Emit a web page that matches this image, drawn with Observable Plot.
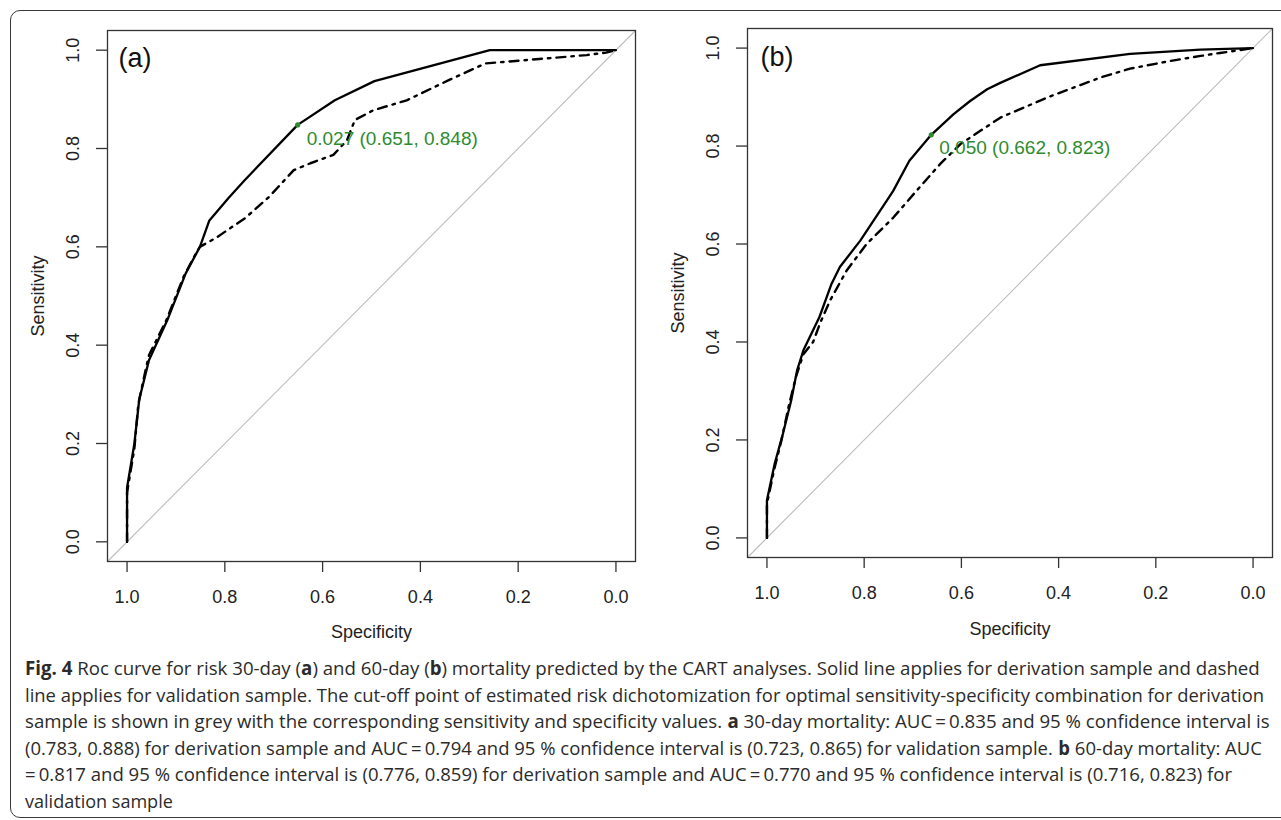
<!DOCTYPE html>
<html><head><meta charset="utf-8">
<script src="https://cdn.jsdelivr.net/npm/d3@7"></script>
<script src="https://cdn.jsdelivr.net/npm/@observablehq/plot@0.6"></script>
<style>
body{margin:0;background:#fff;width:1281px;height:820px;overflow:hidden;position:relative;font-family:"Liberation Sans",Arial,sans-serif}
#border{position:absolute;left:10px;top:10px;width:1300px;height:808px;border:1.3px solid #3a3a3a;border-radius:10px;box-sizing:border-box}
#pa{position:absolute;left:0;top:0}
#pb{position:absolute;left:640px;top:0}
#cap{position:absolute;left:0;top:0}
#cap text{white-space:pre}
</style></head><body>
<div id="border"></div>
<div id="pa"></div><div id="pb"></div>
<svg id="cap" width="1281" height="820"></svg>
<script>
// ---- data: [specificity, sensitivity] ----
const derivA = [[1,0],[1,0.11],[0.985,0.2],[0.975,0.29],[0.955,0.37],[0.918,0.45],[0.88,0.546],[0.851,0.6],[0.832,0.653],[0.792,0.70],[0.759,0.736],[0.651,0.848],[0.575,0.898],[0.494,0.937],[0.258,1.0],[0,1]];
const validA = [[1,0],[1,0.1],[0.985,0.19],[0.977,0.28],[0.962,0.35],[0.955,0.38],[0.92,0.45],[0.884,0.54],[0.86,0.585],[0.851,0.6],[0.817,0.619],[0.759,0.658],[0.709,0.702],[0.659,0.756],[0.625,0.770],[0.578,0.787],[0.55,0.817],[0.534,0.858],[0.496,0.878],[0.428,0.898],[0.342,0.939],[0.267,0.973],[0.06,0.99],[0.02,0.995],[0,1]];
const derivB = [[1,0],[1,0.077],[0.984,0.152],[0.967,0.213],[0.95,0.281],[0.938,0.342],[0.925,0.383],[0.892,0.451],[0.867,0.519],[0.85,0.553],[0.808,0.607],[0.749,0.695],[0.74,0.709],[0.707,0.77],[0.662,0.823],[0.616,0.865],[0.582,0.892],[0.547,0.916],[0.52,0.929],[0.438,0.965],[0.253,0.988],[0.108,0.997],[0,1]];
const validB = [[1,0],[1,0.07],[0.985,0.14],[0.97,0.2],[0.955,0.27],[0.94,0.33],[0.925,0.375],[0.905,0.40],[0.89,0.44],[0.87,0.485],[0.836,0.546],[0.795,0.60],[0.74,0.654],[0.692,0.709],[0.644,0.763],[0.602,0.804],[0.561,0.831],[0.52,0.858],[0.421,0.9],[0.314,0.94],[0.253,0.958],[0.169,0.974],[0.108,0.984],[0.068,0.99],[0,1]];
const panelLabels = ["(a)", "(b)"];
const cutThreshold = [0.027, 0.050];
const cutSpec = [0.651, 0.662];
const cutSens = [0.848, 0.823];
const tickValues = [0, 0.2, 0.4, 0.6, 0.8, 1.0];
const xTitle = "Specificity";
const yTitle = "Sensitivity";
const xDomain = [1.04, -0.04];
const yDomain = [-0.04, 1.04];

const captionLines = [
  [["Fig. 4", true], [" Roc curve for risk 30-day (", false], ["a", true], [") and 60-day (", false], ["b", true], [") mortality predicted by the CART analyses. Solid line applies for derivation sample and dashed", false]],
  [["line applies for validation sample. The cut-off point of estimated risk dichotomization for optimal sensitivity-specificity combination for derivation", false]],
  [["sample is shown in grey with the corresponding sensitivity and specificity values. ", false], ["a", true], [" 30-day mortality: AUC\u2009=\u20090.835 and 95 % confidence interval is", false]],
  [["(0.783, 0.888) for derivation sample and AUC\u2009=\u20090.794 and 95 % confidence interval is (0.723, 0.865) for validation sample. ", false], ["b", true], [" 60-day mortality: AUC", false]],
  [["=\u20090.817 and 95 % confidence interval is (0.776, 0.859) for derivation sample and AUC\u2009=\u20090.770 and 95 % confidence interval is (0.716, 0.823) for", false]],
  [["validation sample", false]]
];
const captionEnds = [1260, 1265, 1270, 1262, 1233, 173];

const green = "#2e8b2e";
const ink = "#222";
const font = "'Liberation Sans', Arial, sans-serif";

function panel(i, deriv, valid, m) {
  const cut = [{s: cutSpec[i], e: cutSens[i], t: cutThreshold[i]}];
  const diag = xDomain.map(v => [v, 1 - v]);
  return Plot.plot({
    width: m.width, height: m.height,
    marginLeft: m.ml, marginRight: m.mr, marginTop: m.mt, marginBottom: m.mb,
    x: {domain: xDomain, axis: null, label: null},
    y: {domain: yDomain, axis: null, label: null},
    style: {fontFamily: font, background: "transparent", overflow: "visible", color: ink},
    marks: [
      Plot.line(diag, {x: d => d[0], y: d => d[1], stroke: "#bdbdbd", strokeWidth: 1.1}),
      Plot.line(valid, {x: d => d[0], y: d => d[1], stroke: "#000", strokeWidth: 2.4, strokeDasharray: "9,6,2.5,6", strokeLinejoin: "round"}),
      Plot.line(deriv, {x: d => d[0], y: d => d[1], stroke: "#000", strokeWidth: 2.3}),
      Plot.dot(cut, {x: "s", y: "e", r: 2.6, fill: green, stroke: null}),
      Plot.text(cut, {x: "s", y: "e", text: d => `${d.t.toFixed(3)} (${d.s.toFixed(3)}, ${d.e.toFixed(3)})`, dx: m.cdx, dy: m.cdy, textAnchor: "start", lineAnchor: "middle", fill: green, fontSize: 19}),
      Plot.frame({stroke: "#333", strokeWidth: 1.3}),
      Plot.axisX(tickValues, {tickSize: 11, tickFormat: () => "", label: null, stroke: "#333", strokeWidth: 1.3}),
      Plot.axisY(tickValues, {tickSize: 11, tickFormat: () => "", label: null, stroke: "#333", strokeWidth: 1.3}),
      Plot.text(tickValues, {x: d => d, frameAnchor: "bottom", dy: m.xtdy, text: d => d.toFixed(1), fontSize: 18, lineAnchor: "middle", fill: ink}),
      Plot.text(tickValues, {y: d => d, frameAnchor: "left", dx: -34.5, rotate: -90, text: d => d.toFixed(1), fontSize: 18, lineAnchor: "middle", textAnchor: "middle", fill: ink}),
      Plot.text([xTitle], {frameAnchor: "bottom", dy: m.xldy, text: d => d, fontSize: 18, lineAnchor: "middle", fill: ink}),
      Plot.text([yTitle], {frameAnchor: "left", dx: -69, rotate: -90, text: d => d, fontSize: 18, lineAnchor: "middle", textAnchor: "middle", fill: ink}),
      Plot.text([panelLabels[i]], {frameAnchor: "top-left", dx: m.ldx, dy: m.ldy, text: d => d, fontSize: 27, lineAnchor: "middle", textAnchor: "start", fill: "#111"})
    ]
  });
}

document.getElementById("pa").appendChild(panel(0, derivA, validA,
  {width: 640, height: 660, ml: 107, mr: 5, mt: 30, mb: 99, cdx: 9, cdy: 14, xtdy: 36, xldy: 71, ldx: 11, ldy: 27.5}));
document.getElementById("pb").appendChild(panel(1, derivB, validB,
  {width: 641, height: 660, ml: 107, mr: 9, mt: 28, mb: 103, cdx: 8, cdy: 13, xtdy: 36, xldy: 72, ldx: 13, ldy: 28.5}));

// caption: each segment is its own text; the line is scaled horizontally to its width
const cap = d3.select("#cap");
captionLines.forEach((parts, i) => {
  const g = cap.append("g");
  let x = 0;
  parts.forEach(([s, b]) => {
    const t = g.append("text")
      .attr("x", x).attr("y", 0)
      .attr("font-family", "'Open Sans', 'Noto Sans', sans-serif")
      .attr("font-size", 19).attr("fill", "#2b2b2b")
      .attr("font-weight", b ? 700 : 400)
      .text(s);
    x += t.node().getComputedTextLength();
  });
  const k = (captionEnds[i] - 25) / x;
  g.attr("transform", `translate(25,${675 + i * 26.5}) scale(${k},1)`);
});
</script>
</body></html>
